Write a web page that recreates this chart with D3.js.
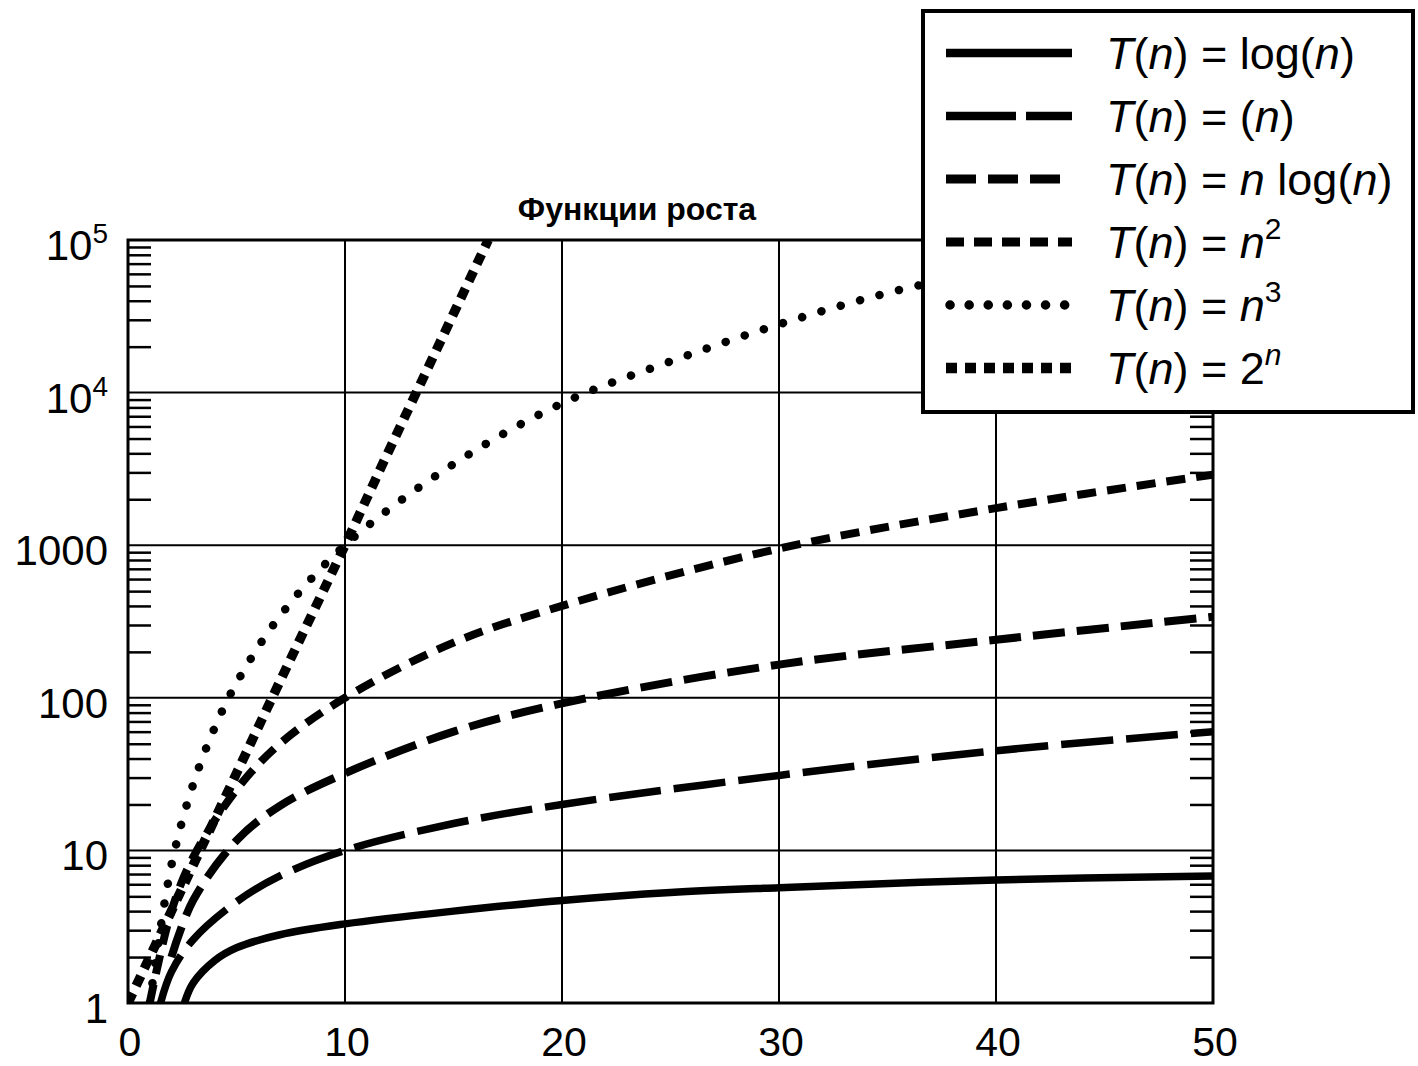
<!DOCTYPE html>
<html><head><meta charset="utf-8">
<script src="https://cdn.jsdelivr.net/npm/d3@7"></script>
<style>
body{margin:0;background:#fff;}
svg{display:block;}
text{font-family:"Liberation Sans",Arial,sans-serif;fill:#000;}
</style></head>
<body><svg id="c" width="1418" height="1066"></svg>
<script>
// ---- data ----
const title = "Функции роста";
const xTicks = [0, 10, 20, 30, 40, 50];
const yTicks = [1, 10, 100, 1000, 1e4, 1e5];
const yTickBase = ["1", "10", "100", "1000", "10", "10"];
const yTickSup  = ["", "", "", "", "4", "5"];

const nLog   = [2.6, 3, 4, 5, 7, 10, 15, 20, 25, 30, 40, 50];
const vLog   = [1, 1.35, 1.9, 2.3, 2.8, 3.3, 4.0, 4.7, 5.3, 5.7, 6.4, 6.8];
const nLin   = [1.5, 2, 3, 5, 7, 10, 15, 20, 30, 40, 50];
const vLin   = [1, 1.6, 2.6, 4.6, 6.8, 10, 15, 20, 31, 45, 60];
const nNlog  = [2, 3, 5, 7, 10, 15, 20, 30, 40, 50];
const vNlog  = [2, 4.7, 11.6, 19.6, 32, 60, 92, 165, 240, 340];
const nSq    = [1, 2, 3, 5, 7, 10, 15, 20, 30, 40, 50];
const vSq    = [1, 4, 9, 25, 50, 100, 230, 400, 950, 1750, 2900];
const nCube  = [1, 2, 3, 4, 5, 7, 10, 15, 20, 25, 30, 35, 40, 45];
const vCube  = [1, 8, 27, 64, 125, 343, 1000, 3400, 8500, 16000, 28000, 45000, 65000, 92000];
const nExp   = [0, 1, 2, 3, 5, 7, 10, 12, 14, 16.6];
const vExp   = [1, 2, 4, 8, 32, 128, 1000, 4100, 16400, 100000];

const seriesLabels = ["log(n)", "(n)", "n log(n)", "n2", "n3", "2n"];

// ---- styles ----
const styles = [
  {w:7.5, dash:null, cap:"butt"},
  {w:7.5, dash:"52,13", cap:"butt"},
  {w:8, dash:"32,12", cap:"butt"},
  {w:8, dash:"19,11", cap:"butt"},
  {w:8.5, dash:"0.1,20", cap:"round"},
  {w:9.5, dash:"11,8", cap:"butt"}
];
const legendDash = [null, "70,10", "30,12", "18,10", "0.1,19", "11,8"];

const series = [
  {n:nLog, v:vLog}, {n:nLin, v:vLin}, {n:nNlog, v:vNlog},
  {n:nSq, v:vSq}, {n:nCube, v:vCube}, {n:nExp, v:vExp}
];

const svg = d3.select("#c");
const L = 128, R = 1213, T = 240, B = 1003;
const x = d3.scaleLinear().domain([0, 50]).range([L, R]);
const y = d3.scaleLog().domain([1, 1e5]).range([B, T]);

// grid lines
const g = svg.append("g");
g.selectAll("line.vx").data(xTicks.slice(1, -1)).enter().append("line")
  .attr("x1", d => x(d)).attr("x2", d => x(d)).attr("y1", T).attr("y2", B)
  .attr("stroke", "#000").attr("stroke-width", 2);
g.selectAll("line.hy").data(yTicks.slice(1, -1)).enter().append("line")
  .attr("x1", L).attr("x2", R).attr("y1", d => y(d)).attr("y2", d => y(d))
  .attr("stroke", "#000").attr("stroke-width", 2);

// minor ticks on left and right
const minor = [];
for (let e = 0; e < 5; e++) for (let k = 2; k <= 9; k++) minor.push(k * Math.pow(10, e));
const axL = d3.axisRight(y).tickValues(minor).tickSize(23).tickFormat("");
const axR = d3.axisLeft(y).tickValues(minor).tickSize(23).tickFormat("");
const gl = svg.append("g").attr("transform", `translate(${L},0)`).call(axL);
const gr = svg.append("g").attr("transform", `translate(${R},0)`).call(axR);
[gl, gr].forEach(a => {
  a.select(".domain").remove();
  a.selectAll("line").attr("stroke", "#000").attr("stroke-width", 2.5);
});

// curves
svg.append("clipPath").attr("id", "pc").append("rect")
  .attr("x", L).attr("y", T).attr("width", R - L).attr("height", B - T);
const line = d3.line().x(d => x(d[0])).y(d => y(d[1])).curve(d3.curveCatmullRom.alpha(0.5));
const cg = svg.append("g").attr("clip-path", "url(#pc)");
series.forEach((s, i) => {
  const pts = s.n.map((n, j) => [n, s.v[j]]);
  const st = styles[i];
  cg.append("path").attr("d", line(pts)).attr("fill", "none")
    .attr("stroke", "#000").attr("stroke-width", st.w)
    .attr("stroke-dasharray", st.dash).attr("stroke-linecap", st.cap);
});

// frame
svg.append("rect").attr("x", L).attr("y", T).attr("width", R - L).attr("height", B - T)
  .attr("fill", "none").attr("stroke", "#000").attr("stroke-width", 3);

// x tick labels
svg.selectAll("text.xl").data(xTicks).enter().append("text")
  .attr("x", d => x(d) + 2).attr("y", 1056).attr("text-anchor", "middle")
  .attr("font-size", 41).text(d => d);

// y tick labels
yTicks.forEach((v, i) => {
  const t = svg.append("text").attr("x", 108).attr("y", y(v) + 20)
    .attr("text-anchor", "end").attr("font-size", 42);
  t.append("tspan").text(yTickBase[i]);
  if (yTickSup[i]) t.append("tspan").attr("font-size", 28).attr("dy", -17).text(yTickSup[i]);
});

// title
svg.append("text").attr("x", 637).attr("y", 220).attr("text-anchor", "middle")
  .attr("font-size", 32).attr("font-weight", "bold").text(title);

// legend
const lg = svg.append("g");
lg.append("rect").attr("x", 923).attr("y", 11).attr("width", 490).attr("height", 401)
  .attr("fill", "#fff").attr("stroke", "#000").attr("stroke-width", 4);
seriesLabels.forEach((lab, i) => {
  const yy = 53 + i * 63;
  const st = styles[i];
  lg.append("line").attr("x1", i === 4 ? 950 : 946).attr("x2", 1072).attr("y1", yy).attr("y2", yy)
    .attr("stroke", "#000").attr("stroke-width", st.w + 1)
    .attr("stroke-dasharray", legendDash[i]).attr("stroke-linecap", st.cap);
  const t = lg.append("text").attr("x", 1106).attr("y", yy + 16).attr("font-size", 45);
  t.append("tspan").attr("font-style", "italic").text("T");
  t.append("tspan").text("(");
  t.append("tspan").attr("font-style", "italic").text("n");
  t.append("tspan").text(") = ");
  if (i === 0) {
    t.append("tspan").text("log(");
    t.append("tspan").attr("font-style", "italic").text("n");
    t.append("tspan").text(")");
  } else if (i === 1) {
    t.append("tspan").text("(");
    t.append("tspan").attr("font-style", "italic").text("n");
    t.append("tspan").text(")");
  } else if (i === 2) {
    t.append("tspan").attr("font-style", "italic").text("n");
    t.append("tspan").text(" log(");
    t.append("tspan").attr("font-style", "italic").text("n");
    t.append("tspan").text(")");
  } else if (i === 3 || i === 4) {
    t.append("tspan").attr("font-style", "italic").text("n");
    t.append("tspan").attr("font-size", 30).attr("dy", -19).text(i === 3 ? "2" : "3");
  } else {
    t.append("tspan").text("2");
    t.append("tspan").attr("font-size", 30).attr("dy", -19).attr("font-style", "italic").text("n");
  }
});
</script>
</body></html>
